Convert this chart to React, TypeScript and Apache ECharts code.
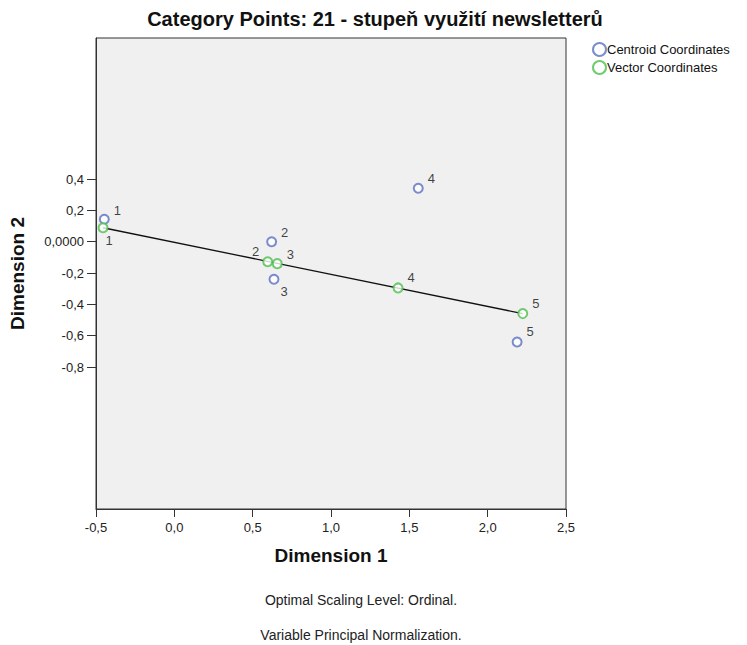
import React, { useEffect, useRef } from "react";
import * as echarts from "echarts";

const categories = ["1", "2", "3", "4", "5"];
const centroidX = [-0.447, 0.621, 0.636, 1.557, 2.188];
const centroidY = [0.143, 0.0, -0.24, 0.341, -0.64];
const vectorX = [-0.455, 0.596, 0.657, 1.428, 2.224];
const vectorY = [0.089, -0.128, -0.14, -0.295, -0.459];
const xTicks = [-0.5, 0, 0.5, 1, 1.5, 2, 2.5];
const yTicks = [0.4, 0.2, 0, -0.2, -0.4, -0.6, -0.8];

const FONT = "Liberation Sans, Arial, sans-serif";
const BLUE = "#5b70c2";
const GREEN = "#4cbf4c";

const centroidLabelOffset: Record<string, [number, number]> = {
  "1": [-1, -9],
  "2": [-1, -9],
  "3": [-4, 12],
  "4": [-1, -10],
  "5": [-1, -10],
};
const vectorLabelPos: Record<string, { position: string; offset: [number, number] }> = {
  "1": { position: "right", offset: [-8, 13] },
  "2": { position: "left", offset: [2, -10] },
  "3": { position: "right", offset: [-1, -9] },
  "4": { position: "right", offset: [-1, -10] },
  "5": { position: "right", offset: [-1, -10] },
};

export default function App() {
  const ref = useRef<HTMLDivElement>(null);
  useEffect(() => {
    if (!ref.current) return;
    const chart = echarts.init(ref.current, undefined, { renderer: "svg" });
    const fmt = (v: number) => v.toFixed(1).replace(".", ",");
    chart.setOption({
      animation: false,
      backgroundColor: "#ffffff",
      textStyle: { fontFamily: FONT },
      title: [
        {
          text: "Category Points: 21 - stupeň využití newsletterů",
          left: 375,
          top: 9,
          padding: 0,
          textAlign: "center",
          textStyle: { fontFamily: FONT, fontSize: 20, fontWeight: "bold", color: "#111" },
        },
        {
          text: "Optimal Scaling Level: Ordinal.",
          left: 361,
          top: 593,
          padding: 0,
          textAlign: "center",
          textStyle: { fontFamily: FONT, fontSize: 14, fontWeight: "normal", color: "#222" },
        },
        {
          text: "Variable Principal Normalization.",
          left: 361,
          top: 628,
          padding: 0,
          textAlign: "center",
          textStyle: { fontFamily: FONT, fontSize: 14, fontWeight: "normal", color: "#222" },
        },
      ],
      legend: {
        data: ["Centroid Coordinates", "Vector Coordinates"],
        orient: "vertical",
        left: 587,
        top: 37,
        itemWidth: 13,
        itemHeight: 13,
        itemGap: 3,
        textStyle: { fontFamily: FONT, fontSize: 13, color: "#111", padding: [0, 0, 0, -4] },
      },
      grid: {
        left: 96,
        top: 38,
        width: 470,
        height: 471,
        outerBoundsMode: "none",
        containLabel: false,
        show: true,
        backgroundColor: "#f0f0f0",
        borderColor: "#333",
        borderWidth: 1,
      },
      xAxis: {
        type: "value",
        min: -0.5,
        max: 2.5,
        interval: 0.5,
        name: "Dimension 1",
        nameLocation: "middle",
        nameGap: 37,
        nameTextStyle: { fontFamily: FONT, fontSize: 19, fontWeight: "bold", color: "#111" },
        axisLine: { show: true, onZero: false, lineStyle: { color: "#333" } },
        axisTick: { show: true, length: 8, lineStyle: { color: "#333" }, customValues: xTicks },
        axisLabel: {
          customValues: xTicks,
          formatter: fmt,
          fontFamily: FONT,
          fontSize: 13,
          color: "#222",
          margin: 12,
        },
        splitLine: { show: false },
      },
      yAxis: {
        type: "value",
        min: -1.706,
        max: 1.3,
        name: "Dimension 2",
        nameLocation: "middle",
        nameGap: 69,
        nameTextStyle: { fontFamily: FONT, fontSize: 19, fontWeight: "bold", color: "#111" },
        axisLine: { show: true, onZero: false, lineStyle: { color: "#333" } },
        axisTick: { show: true, length: 9, lineStyle: { color: "#333" }, customValues: yTicks },
        axisLabel: {
          customValues: yTicks,
          formatter: (v: number) => (Math.abs(v) < 1e-9 ? "0,0000" : fmt(v)),
          fontFamily: FONT,
          fontSize: 13,
          color: "#222",
          margin: 12,
        },
        splitLine: { show: false },
      },
      series: [
        {
          name: "Fit",
          type: "line",
          data: [
            [vectorX[0], vectorY[0]],
            [vectorX[vectorX.length - 1], vectorY[vectorY.length - 1]],
          ],
          showSymbol: false,
          symbol: "none",
          lineStyle: { color: "#111", width: 1.3 },
          z: 1,
          silent: true,
        },
        {
          name: "Centroid Coordinates",
          type: "scatter",
          symbol: "emptyCircle",
          symbolSize: 9,
          itemStyle: { color: BLUE, borderColor: BLUE, borderWidth: 1.3 },
          z: 3,
          data: categories.map((c, i) => ({
            value: [centroidX[i], centroidY[i]],
            name: c,
            label: {
              show: true,
              position: "right",
              offset: centroidLabelOffset[c],
              formatter: c,
              fontFamily: FONT,
              fontSize: 13,
              color: "#111",
            },
          })),
        },
        {
          name: "Vector Coordinates",
          type: "scatter",
          symbol: "emptyCircle",
          symbolSize: 9,
          itemStyle: { color: GREEN, borderColor: GREEN, borderWidth: 1.3 },
          z: 3,
          data: categories.map((c, i) => ({
            value: [vectorX[i], vectorY[i]],
            name: c,
            label: {
              show: true,
              position: vectorLabelPos[c].position,
              offset: vectorLabelPos[c].offset,
              formatter: c,
              fontFamily: FONT,
              fontSize: 13,
              color: "#111",
            },
          })),
        },
      ],
    });
    return () => chart.dispose();
  }, []);
  return (
    <div
      ref={ref}
      style={{ position: "fixed", left: 0, top: 0, width: 747, height: 645 }}
    />
  );
}
